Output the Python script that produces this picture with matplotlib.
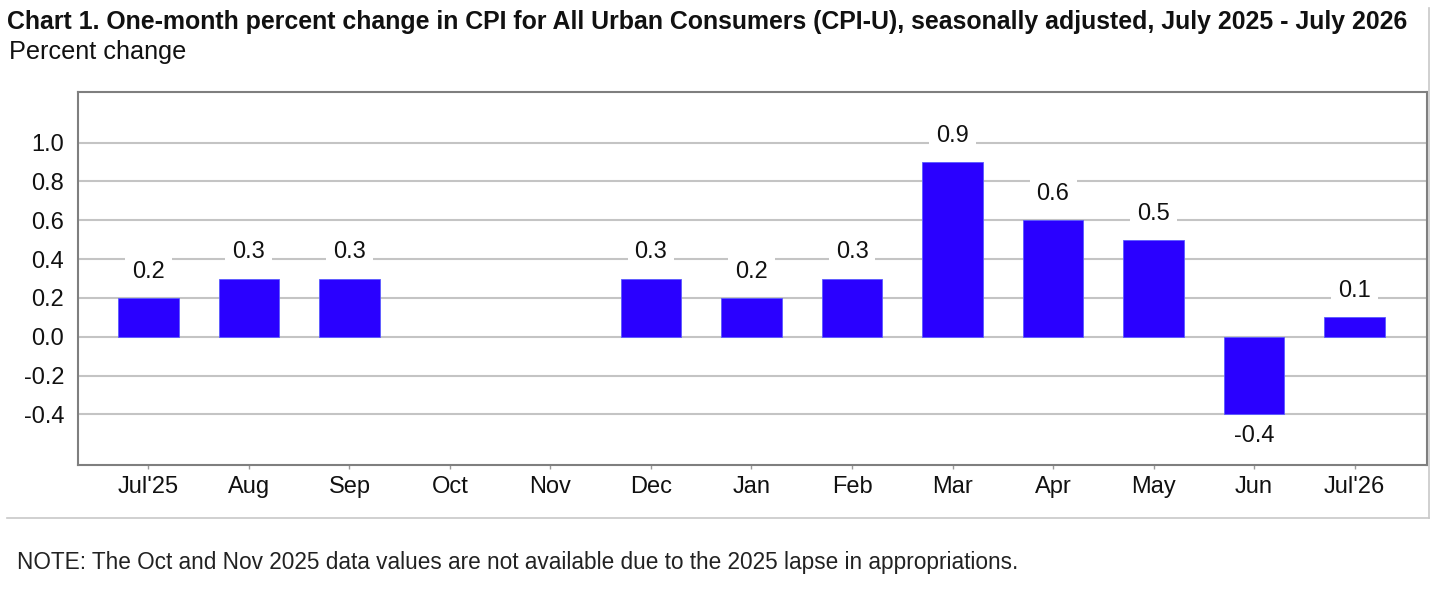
import numpy as np
import matplotlib
matplotlib.use("Agg")
import matplotlib.pyplot as plt
from matplotlib.lines import Line2D

months = ["Jul'25", "Aug", "Sep", "Oct", "Nov", "Dec", "Jan", "Feb", "Mar", "Apr", "May", "Jun", "Jul'26"]
values = [0.2, 0.3, 0.3, np.nan, np.nan, 0.3, 0.2, 0.3, 0.9, 0.6, 0.5, -0.4, 0.1]
yticks = [-0.4, -0.2, 0.0, 0.2, 0.4, 0.6, 0.8, 1.0]
title = "Chart 1. One-month percent change in CPI for All Urban Consumers (CPI-U), seasonally adjusted, July 2025 - July 2026"
ylabel = "Percent change"
note = "NOTE: The Oct and Nov 2025 data values are not available due to the 2025 lapse in appropriations."

plt.rcParams['font.family'] = ['Liberation Sans', 'DejaVu Sans']

W, H = 1436, 589
fig = plt.figure(figsize=(W / 100, H / 100), dpi=100)
fig.patch.set_facecolor('white')

ax = fig.add_axes([78 / W, 1 - 465 / H, (1427 - 78) / W, (465 - 92) / H])
x = np.arange(len(months))
vals = np.array(values, dtype=float)
mask = ~np.isnan(vals)
ax.bar(x[mask], vals[mask], width=0.6, color='#2a00ff', edgecolor='#5a5aff', linewidth=0.6, zorder=3)

for xi, v in zip(x[mask], vals[mask]):
    off = 26 if v >= 0 else -22
    ax.annotate(f"{v:.1f}", (xi, v), xytext=(0, off), textcoords='offset pixels',
                ha='center', va='center', fontsize=17, color='#111111', zorder=4,
                bbox=dict(boxstyle='square,pad=0.3', fc='white', ec='none'))

ax.set_xlim(-0.7, 12.72)
ax.set_ylim(-0.66, 1.26)
ax.set_yticks(yticks)
ax.set_yticklabels([f"{t:.1f}" for t in yticks])
ax.set_xticks(x)
ax.set_xticklabels(months)
ax.grid(axis='y', color='#c4c4c4', linewidth=1.5, zorder=0)
ax.set_axisbelow(True)
ax.tick_params(axis='y', length=0, pad=10, labelsize=17, labelcolor='#111111')
ax.tick_params(axis='x', length=3, color='#9a9a9a', width=1, pad=5, labelsize=17, labelcolor='#111111')
for s in ax.spines.values():
    s.set_color('#7f7f7f')
    s.set_linewidth(1.5)

# outer frame lines (right and bottom)
fig.add_artist(Line2D([1429 / W, 1429 / W], [1 - 8 / H, 1 - 518 / H], color='#c8c8c8', lw=1.2))
fig.add_artist(Line2D([7 / W, 1429 / W], [1 - 518 / H, 1 - 518 / H], color='#c8c8c8', lw=1.2))

t1 = fig.text(7 / W, 1 - 22 / H, title, fontsize=16, fontweight='bold', color='#111111', ha='left', va='center')
t2 = fig.text(9 / W, 1 - 52 / H, ylabel, fontsize=15, color='#111111', ha='left', va='center')
t3 = fig.text(17 / W, 1 - 562 / H, note, fontsize=15, color='#222222', ha='left', va='center')

fig.canvas.draw()
r = fig.canvas.get_renderer()
for t, target in [(t1, 1403), (t2, 178), (t3, 1003)]:
    w = t.get_window_extent(r).width
    t.set_fontsize(t.get_fontsize() * target / w)

fig.savefig("out.png", dpi=100, facecolor='white')
